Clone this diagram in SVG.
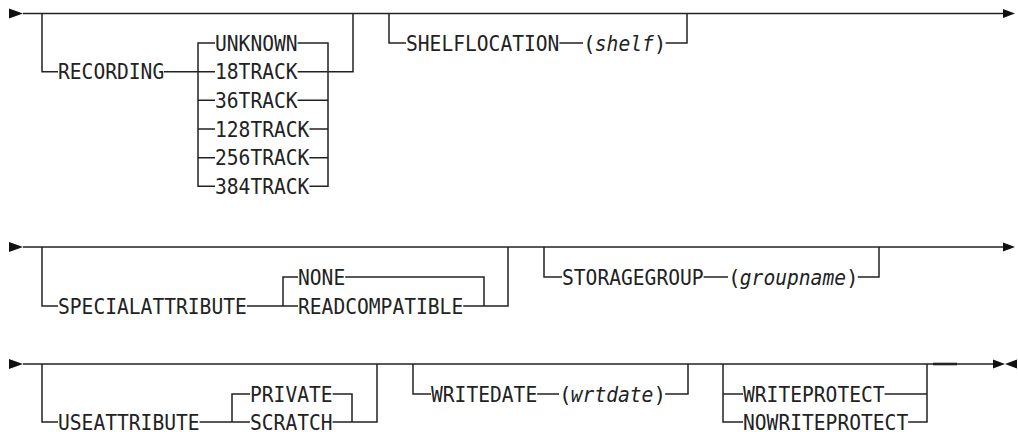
<svg xmlns="http://www.w3.org/2000/svg" width="1018" height="432" viewBox="0 0 1018 432">
<style>
.l{fill:none;stroke:#222;stroke-width:1.5}
.t{font-family:"DejaVu Sans Mono","Liberation Mono",monospace;font-size:21px;fill:#222}
.i{font-style:italic}
.a{fill:#111}
</style>
<rect width="1018" height="432" fill="#fff"/>
<g id="connectors">
<!-- Row 1 -->
<polygon class="a" points="9,8.5 23,13.5 9,18.5"/>
<path class="l" d="M23,13.5H1003"/>
<polygon class="a" points="1003,9 1015,13.5 1003,18"/>
<path class="l" d="M42,13.5V71.7H58M164,71.7H215"/>
<path class="l" d="M215,43H198V186.3H215M198,100.3H215M198,129H215M198,157.7H215"/>
<path class="l" d="M297.6,43H328V186.3H309.4M297.6,71.7H353V13.5M297.6,100.3H328M309.4,129H328M309.4,157.7H328"/>
<path class="l" d="M389,13.5V43H406M559.4,43H583M665.6,43H687V13.5"/>
<!-- Row 2 -->
<polygon class="a" points="9,242 23,247 9,252"/>
<path class="l" d="M23,247H1003"/>
<polygon class="a" points="1003,242.5 1015,247 1003,251.5"/>
<path class="l" d="M42,247V306H58M246.8,306H298M298,277H283V306"/>
<path class="l" d="M345.2,277H484V306H463.2M484,306H508V247"/>
<path class="l" d="M544,247V277H562M703.6,277H728M857.8,277H879V247"/>
<!-- Row 3 -->
<polygon class="a" points="9,359 23,364 9,369"/>
<path class="l" d="M23,364H993"/>
<path class="l" d="M42,364V422H58M199.6,422H250M250,394H232V422"/>
<path class="l" d="M332.6,394H352V422H332.6M352,422H377V364"/>
<path class="l" d="M413,364V394H431M537.2,394H559M665.2,394H688V364"/>
<path class="l" d="M723,364V422H743M723,394H743M884.6,394H927M908.2,422H927V364"/>
<path class="l" d="M933,364H957" style="stroke-width:2.6"/>
<polygon class="a" points="993,359.5 1005,364 993,368.5"/>
<polygon class="a" points="1017,359.5 1005,364 1017,368.5"/>
</g>
<g id="n-recording"><text class="t" x="58" y="79.2" textLength="106.2" lengthAdjust="spacingAndGlyphs">RECORDING</text></g>
<g id="n-unknown"><text class="t" x="215" y="50.5" textLength="82.6" lengthAdjust="spacingAndGlyphs">UNKNOWN</text></g>
<g id="n-18track"><text class="t" x="215" y="79.2" textLength="82.6" lengthAdjust="spacingAndGlyphs">18TRACK</text></g>
<g id="n-36track"><text class="t" x="215" y="107.8" textLength="82.6" lengthAdjust="spacingAndGlyphs">36TRACK</text></g>
<g id="n-128track"><text class="t" x="215" y="136.5" textLength="94.4" lengthAdjust="spacingAndGlyphs">128TRACK</text></g>
<g id="n-256track"><text class="t" x="215" y="165.2" textLength="94.4" lengthAdjust="spacingAndGlyphs">256TRACK</text></g>
<g id="n-384track"><text class="t" x="215" y="193.8" textLength="94.4" lengthAdjust="spacingAndGlyphs">384TRACK</text></g>
<g id="n-shelflocation"><text class="t" x="406" y="50.5" textLength="153.4" lengthAdjust="spacingAndGlyphs">SHELFLOCATION</text></g>
<g id="n-shelf"><text class="t" x="583" y="50.5">(</text><text class="t i" x="594.8" y="50.5" textLength="59" lengthAdjust="spacingAndGlyphs">shelf</text><text class="t" x="653.8" y="50.5">)</text></g>
<g id="n-specialattribute"><text class="t" x="58" y="313.5" textLength="188.8" lengthAdjust="spacingAndGlyphs">SPECIALATTRIBUTE</text></g>
<g id="n-none"><text class="t" x="298" y="284.5" textLength="47.2" lengthAdjust="spacingAndGlyphs">NONE</text></g>
<g id="n-readcompatible"><text class="t" x="298" y="313.5" textLength="165.2" lengthAdjust="spacingAndGlyphs">READCOMPATIBLE</text></g>
<g id="n-storagegroup"><text class="t" x="562" y="284.5" textLength="141.6" lengthAdjust="spacingAndGlyphs">STORAGEGROUP</text></g>
<g id="n-groupname"><text class="t" x="728" y="284.5">(</text><text class="t i" x="739.8" y="284.5" textLength="106.2" lengthAdjust="spacingAndGlyphs">groupname</text><text class="t" x="846" y="284.5">)</text></g>
<g id="n-useattribute"><text class="t" x="58" y="429.5" textLength="141.6" lengthAdjust="spacingAndGlyphs">USEATTRIBUTE</text></g>
<g id="n-private"><text class="t" x="250" y="401.5" textLength="82.6" lengthAdjust="spacingAndGlyphs">PRIVATE</text></g>
<g id="n-scratch"><text class="t" x="250" y="429.5" textLength="82.6" lengthAdjust="spacingAndGlyphs">SCRATCH</text></g>
<g id="n-writedate"><text class="t" x="431" y="401.5" textLength="106.2" lengthAdjust="spacingAndGlyphs">WRITEDATE</text></g>
<g id="n-wrtdate"><text class="t" x="559" y="401.5">(</text><text class="t i" x="570.8" y="401.5" textLength="82.6" lengthAdjust="spacingAndGlyphs">wrtdate</text><text class="t" x="653.4" y="401.5">)</text></g>
<g id="n-writeprotect"><text class="t" x="743" y="401.5" textLength="141.6" lengthAdjust="spacingAndGlyphs">WRITEPROTECT</text></g>
<g id="n-nowriteprotect"><text class="t" x="743" y="429.5" textLength="165.2" lengthAdjust="spacingAndGlyphs">NOWRITEPROTECT</text></g>
</svg>
